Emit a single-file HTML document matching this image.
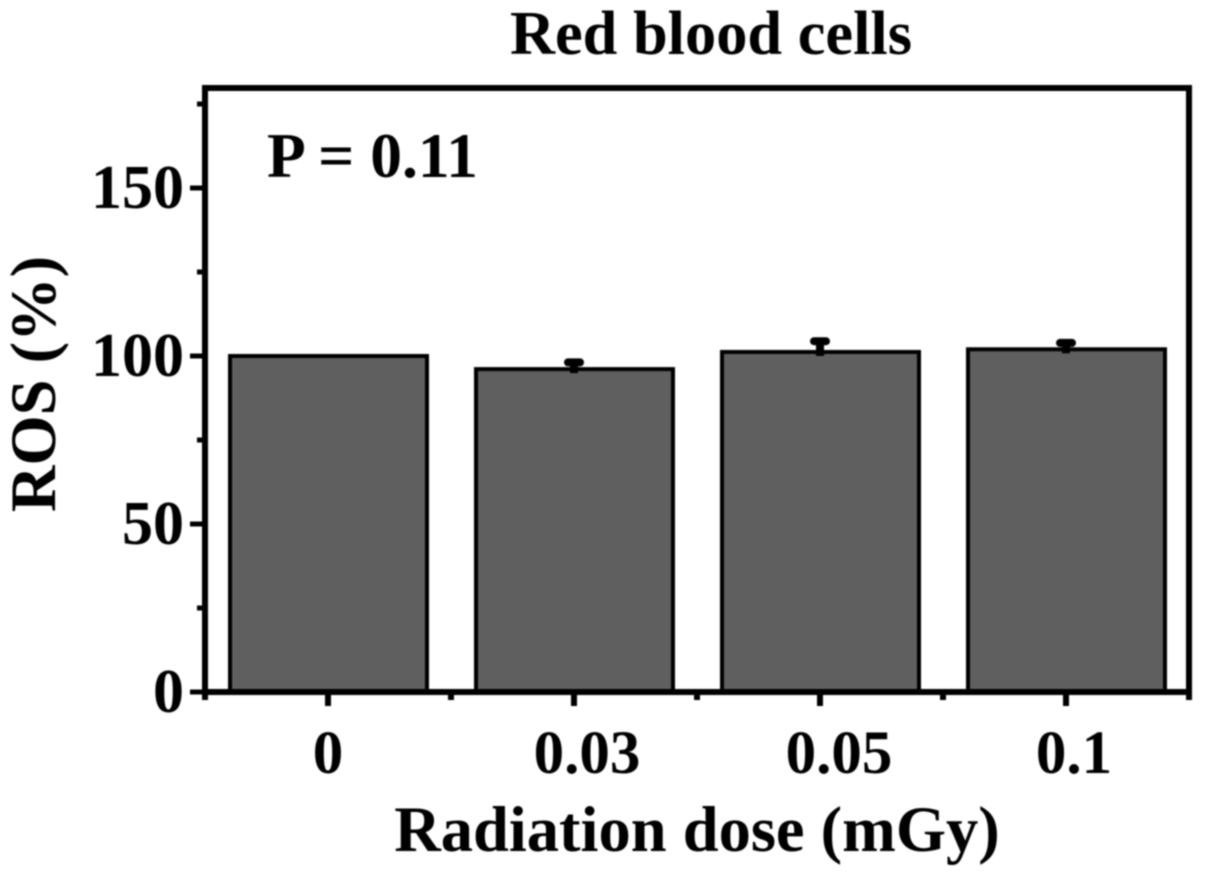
<!DOCTYPE html>
<html lang="en">
<head>
<meta charset="utf-8">
<title>Red blood cells ROS chart</title>
<style>
html,body{margin:0;padding:0;background:#fff;width:1205px;height:879px;overflow:hidden}
svg{display:block}
text{font-family:"Liberation Serif",serif;font-weight:bold;fill:#000}
</style>
</head>
<body>
<svg id="chart" width="1205" height="879" viewBox="0 0 1205 879" xmlns="http://www.w3.org/2000/svg">
  <g id="root" style="filter:blur(0.7px)">
    <text x="711" y="54" font-size="62.4" text-anchor="middle">Red blood cells</text>
    <text x="267" y="177" font-size="63.5">P = 0.11</text>
    <text x="697" y="851" font-size="64.5" text-anchor="middle">Radiation dose (mGy)</text>
    <text transform="translate(55,384) rotate(-90)" font-size="64.5" text-anchor="middle">ROS (%)</text>
    <g id="bars"></g>
    <g id="axes"></g>
  </g>
</svg>
<script>
const categories = ['0', '0.03', '0.05', '0.1'];
const rosValues = [100, 96.1, 101.2, 102];
const rosErrors = [0, 2, 3.2, 1.9];
const yMajorTicks = [0, 50, 100, 150];
const yMinorTicks = [25, 75, 125, 175];

const NS = 'http://www.w3.org/2000/svg';
const plot = { left: 205, right: 1189, top: 88, bottom: 692 };
const yScale = v => plot.bottom - v * 3.36;
const xCenter = i => plot.left + 123 + i * 246;
const barWidth = 197;

function xLabelNudge(label) {
  if (label === '0.03') return 13;
  if (label === '0.05') return 19;
  if (label === '0.1') return 8;
  return 0;
}

function make(tag, attrs, parent) {
  const el = document.createElementNS(NS, tag);
  for (const k in attrs) el.setAttribute(k, attrs[k]);
  parent.appendChild(el);
  return el;
}

const barsG = document.getElementById('bars');
const axesG = document.getElementById('axes');

categories.forEach((c, i) => {
  const x = xCenter(i);
  const top = yScale(rosValues[i]);
  const bar = make('rect', { x: x + 0.5 - barWidth / 2, y: top, width: barWidth, height: plot.bottom - top, fill: '#5f5f5f', stroke: '#000', 'stroke-width': 4 }, barsG);
  
  
  if (rosErrors[i] > 0) {
    const capY = yScale(rosValues[i] + rosErrors[i]);
    const stem = make('line', { x1: x, x2: x, y1: top + 4, y2: capY, stroke: '#000', 'stroke-width': 8 }, barsG);
    
    
    const cap = make('line', { x1: x - 6, x2: x + 6, y1: capY, y2: capY, stroke: '#000', 'stroke-width': 8, 'stroke-linecap': 'round' }, barsG);
    
    
  }
});

const frame = make('rect', { x: plot.left, y: plot.top, width: plot.right - plot.left, height: plot.bottom - plot.top, fill: 'none', stroke: '#000', 'stroke-width': 6 }, axesG);



yMajorTicks.forEach(v => {
  const y = yScale(v);
  const tick = make('line', { x1: plot.left - 15, x2: plot.left, y1: y, y2: y, stroke: '#000', 'stroke-width': 5 }, axesG);
  
  
  const label = make('text', { x: plot.left - 21, y: y + 20, 'font-size': 62, 'text-anchor': 'end' }, axesG);
  label.textContent = v;
  
  
});

yMinorTicks.forEach(v => {
  const y = yScale(v);
  const tick = make('line', { x1: plot.left - 8, x2: plot.left, y1: y, y2: y, stroke: '#000', 'stroke-width': 5 }, axesG);
  
  
});

categories.forEach((c, i) => {
  const x = xCenter(i);
  const tick = make('line', { x1: x, x2: x, y1: plot.bottom, y2: plot.bottom + 14, stroke: '#000', 'stroke-width': 6 }, axesG);
  
  
  const label = make('text', { x: x + xLabelNudge(c), y: 773, 'font-size': 61, 'text-anchor': 'middle' }, axesG);
  label.textContent = c;
  
  
});

for (let i = 0; i <= categories.length; i++) {
  const x = plot.left + i * 246;
  const tick = make('line', { x1: x, x2: x, y1: plot.bottom, y2: plot.bottom + 8, stroke: '#000', 'stroke-width': 6 }, axesG);
  
  
}
</script>
</body>
</html>
